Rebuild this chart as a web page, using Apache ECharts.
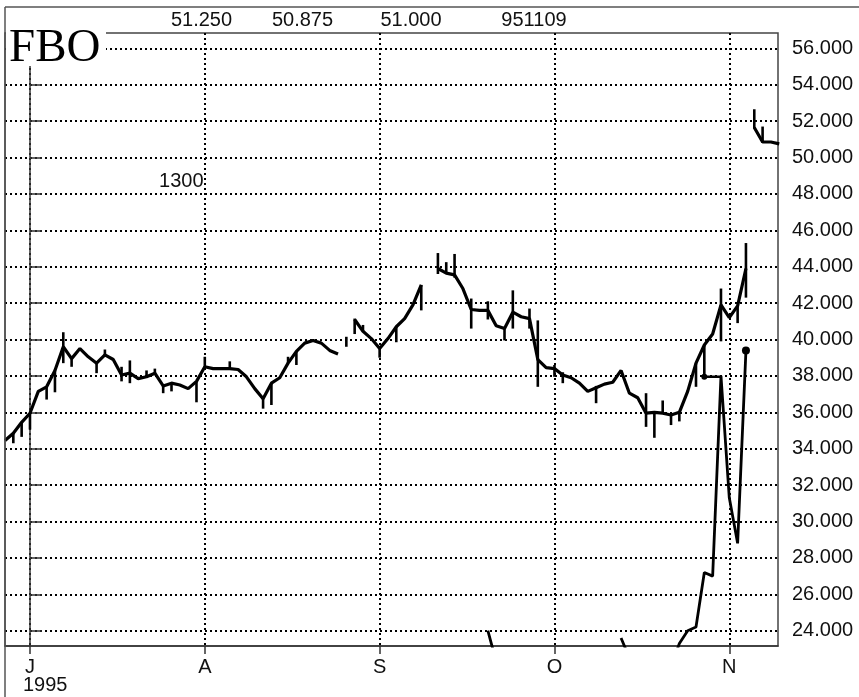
<!DOCTYPE html>
<html><head><meta charset="utf-8">
<script src="https://cdn.jsdelivr.net/npm/echarts@6/dist/echarts.min.js"></script>
<style>html,body{margin:0;padding:0;background:#fff}#c{width:859px;height:697px}</style>
</head><body><div id="c"></div>
<script>
// ---- data ----
const tickerName = 'FBO';
const headerValues = ['51.250', '50.875', '51.000', '951109'];
const volumeText = '1300';
const yearLabel = '1995';
const monthDays = [0, 21, 42, 63, 84];           // trading-day index of month starts
const monthLabels = ['J', 'A', 'S', 'O', 'N'];
const yTicks = [24, 26, 28, 30, 32, 34, 36, 38, 40, 42, 44, 46, 48, 50, 52, 54, 56];
const firstDay = -3;                              // closes[0] is day -3
const gapAfterDay = 86;                           // takeover gap: line broken here
const closes = [
  34.45,34.85,35.45,35.95,37.15,37.4,38.3,39.6,38.95,39.5,
  39.05,38.7,39.15,38.9,38.05,38.15,37.85,37.95,38.15,37.45,
  37.6,37.5,37.3,37.7,38.5,38.4,38.4,38.4,38.35,37.95,
  37.3,36.75,37.6,37.9,38.7,39.35,39.8,39.95,39.8,39.4,
  39.2,null,41.1,40.45,40.05,39.5,40.05,40.7,41.15,41.9,
  43.0,null,43.9,43.65,43.55,42.8,41.65,41.6,41.6,40.75,
  40.6,41.5,41.25,41.15,38.9,38.45,38.4,38.05,37.9,37.6,
  37.15,37.35,37.55,37.65,38.3,37.05,36.8,35.95,36.0,35.95,
  35.85,36.0,37.15,38.7,39.7,40.3,41.9,41.2,41.85,43.9,
  51.65,50.85,50.85,50.75
];
// [day, low, high]
const hlBars = [
  [-2,34.3,34.9],[-1,34.65,35.45],[0,35.05,35.95],[2,36.7,37.4],[3,37.1,38.3],
  [4,38.7,40.4],[5,38.5,38.95],[8,38.15,38.7],[9,39.15,39.45],[11,37.7,38.5],
  [12,37.6,38.85],[14,37.95,38.3],[15,38.15,38.4],[16,37.05,37.45],[17,37.15,37.6],
  [20,36.55,37.7],[21,38.5,39.05],[24,38.4,38.8],[28,36.2,36.75],[29,36.4,37.6],
  [31,38.7,39.05],[32,38.6,39.35],[38,39.6,40.15],[39,40.3,41.15],[40,40.45,40.8],
  [42,39.0,39.5],[44,39.85,40.7],[47,41.6,43.0],[49,43.6,44.75],[50,43.65,44.25],
  [51,43.4,44.7],[53,40.6,42.25],[55,41.1,42.1],[57,39.95,40.6],[58,40.6,42.7],
  [60,40.6,41.7],[61,37.4,41.05],[63,37.95,38.6],[64,37.6,38.2],[68,36.5,37.45],
  [74,35.2,37.05],[75,34.6,36.0],[76,35.95,36.65],[77,35.3,35.85],[78,35.5,36.0],
  [80,37.4,38.7],[81,37.95,39.7],[83,39.9,42.8],[85,40.9,41.85],[86,42.3,45.3],
  [87,51.6,52.65],[88,50.8,51.7]
];
// second line [day, value]; mostly below the visible range
const otherLine = [
  [55,24.0],[56,22.3],
  [71,23.6],[72,22.5],
  [77,22.0],[78,23.3],[79,24.0],[80,24.2],[81,27.2],[82,27.0],[83,38.0],[84,31.3],[85,28.8],[86,39.4]
];
const levelLine = [[81,37.95],[83,37.95]];

// ---- build series data ----
const closeData = [];
closes.forEach((v, i) => {
  const d = firstDay + i;
  closeData.push([d, v]);
  if (d === gapAfterDay) closeData.push([d + 0.5, null]);
});
const otherData = [];
otherLine.forEach((p, i) => {
  if (i > 0 && p[0] - otherLine[i - 1][0] > 1) otherData.push([p[0] - 0.5, null]);
  otherData.push(p);
});

const FONT = 'Liberation Sans, Arial, Helvetica, sans-serif';
const chart = echarts.init(document.getElementById('c'), null, {renderer: 'canvas'});
const dotted = {color: '#000', type: [2, 3], width: 2};

chart.setOption({
  animation: false,
  backgroundColor: '#fff',
  grid: {left: 5, right: 81, top: 33, bottom: 51, show: true, borderColor: '#444', borderWidth: 1.5, backgroundColor: 'transparent'},
  xAxis: {
    type: 'value', min: firstDay, max: 89.85,
    axisLine: {show: true, onZero: false, lineStyle: {color: '#333', width: 1.5}},
    axisTick: {show: true, customValues: monthDays, length: 8, lineStyle: {color: '#333', width: 1.5}},
    axisLabel: {customValues: monthDays, formatter: v => monthLabels[monthDays.indexOf(Math.round(v))] || '',
      color: '#111', fontSize: 20, fontFamily: FONT, margin: 11},
    splitLine: {show: true, lineStyle: dotted}
  },
  yAxis: {
    type: 'value', position: 'right', min: 23.16, max: 56.84, scale: true,
    axisLine: {show: true, lineStyle: {color: '#333', width: 1.5}},
    axisTick: {show: true, inside: false, customValues: yTicks, length: 12, lineStyle: {color: '#333', width: 1.5}},
    axisLabel: {customValues: yTicks, formatter: v => Number(v).toFixed(3), color: '#111', fontSize: 20, fontFamily: FONT, margin: 14},
    splitLine: {show: true, lineStyle: dotted}
  },
  series: [
    {type: 'line', name: 'close', data: closeData, showSymbol: false, symbol: 'none', connectNulls: false,
      lineStyle: {color: '#000', width: 3.2}, z: 5},
    {type: 'custom', name: 'range', data: hlBars, encode: {x: 0, y: [1, 2]}, clip: true, z: 5,
      renderItem: (params, api) => {
        const d = api.value(0);
        const a = api.coord([d, api.value(1)]);
        const b = api.coord([d, api.value(2)]);
        return {type: 'line', shape: {x1: a[0], y1: a[1], x2: b[0], y2: b[1]}, style: {stroke: '#000', lineWidth: 2.6}};
      }},
    {type: 'line', name: 'other', data: otherData, connectNulls: false, symbol: 'circle',
      symbolSize: (val, p) => (p.dataIndex === otherData.length - 1 ? 8 : 0),
      itemStyle: {color: '#000'}, lineStyle: {color: '#000', width: 2.8}, z: 4},
    {type: 'line', name: 'level', data: levelLine, symbol: 'circle',
      symbolSize: (val, p) => (p.dataIndex === 0 ? 6 : 0),
      itemStyle: {color: '#000'}, lineStyle: {color: '#000', width: 2.5}, z: 4}
  ],
  graphic: [
    {type: 'line', z: 100, shape: {x1: 5, y1: 7, x2: 859, y2: 7}, style: {stroke: '#555', lineWidth: 1.5}},
    {type: 'line', z: 100, shape: {x1: 5, y1: 7, x2: 5, y2: 697}, style: {stroke: '#555', lineWidth: 1.5}},
    {type: 'rect', z: 100, shape: {x: 6, y: 8, width: 100, height: 58}, style: {fill: '#fff'}},
    {type: 'text', z: 101, style: {text: tickerName, x: 9, y: 48.4, font: '47px "Liberation Serif", "Times New Roman", serif', fill: '#000', verticalAlign: 'middle', align: 'left'}},
    {type: 'text', z: 101, style: {text: headerValues[0], x: 201.5, y: 20.5, font: '20px ' + FONT, fill: '#111', align: 'center', verticalAlign: 'middle'}},
    {type: 'text', z: 101, style: {text: headerValues[1], x: 302.5, y: 20.5, font: '20px ' + FONT, fill: '#111', align: 'center', verticalAlign: 'middle'}},
    {type: 'text', z: 101, style: {text: headerValues[2], x: 411, y: 20.5, font: '20px ' + FONT, fill: '#111', align: 'center', verticalAlign: 'middle'}},
    {type: 'text', z: 101, style: {text: headerValues[3], x: 534, y: 20.5, font: '20px ' + FONT, fill: '#111', align: 'center', verticalAlign: 'middle'}},
    {type: 'text', z: 101, style: {text: volumeText, x: 181.3, y: 181, font: '20px ' + FONT, fill: '#111', align: 'center', verticalAlign: 'middle'}},
    {type: 'text', z: 101, style: {text: yearLabel, x: 23, y: 685.5, font: '20px ' + FONT, fill: '#111', align: 'left', verticalAlign: 'middle'}}
  ]
});
</script></body></html>
